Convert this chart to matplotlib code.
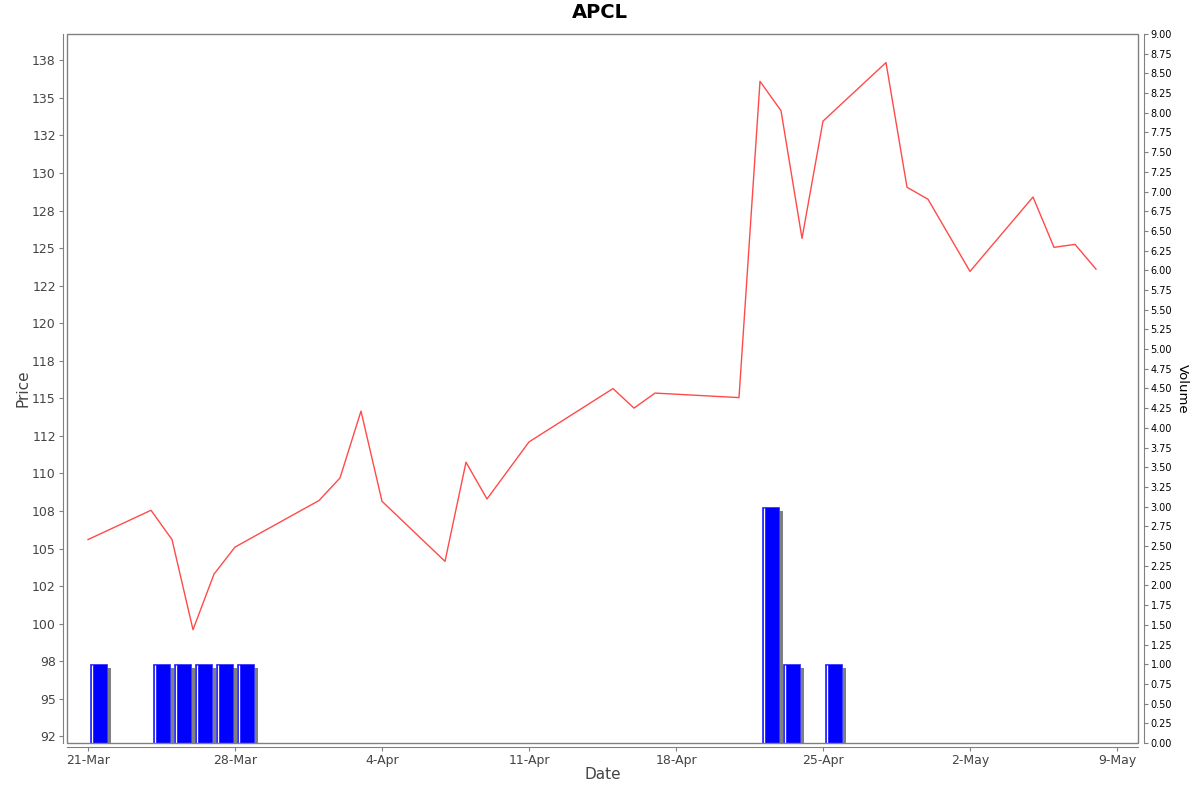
import datetime as dt
import numpy as np
import matplotlib
matplotlib.use("Agg")
from matplotlib import pyplot as plt
import matplotlib.dates as mdates
from matplotlib.ticker import FuncFormatter, MultipleLocator
from matplotlib.transforms import offset_copy

# ---- data ---------------------------------------------------------------
price_dates = ["2025-03-21", "2025-03-24", "2025-03-25", "2025-03-26", "2025-03-27",
               "2025-03-28", "2025-04-01", "2025-04-02", "2025-04-03", "2025-04-04",
               "2025-04-07", "2025-04-08", "2025-04-09", "2025-04-11", "2025-04-15",
               "2025-04-16", "2025-04-17", "2025-04-21", "2025-04-22", "2025-04-23",
               "2025-04-24", "2025-04-25", "2025-04-28", "2025-04-29", "2025-04-30",
               "2025-05-02", "2025-05-05", "2025-05-06", "2025-05-07", "2025-05-08"]
prices = [105.6, 107.55, 105.6, 99.6, 103.3,
          105.1, 108.2, 109.7, 114.15, 108.15,
          104.15, 110.75, 108.3, 112.1, 115.65,
          114.35, 115.35, 115.05, 136.1, 134.15,
          125.65, 133.45, 137.35, 129.05, 128.25,
          123.45, 128.4, 125.05, 125.25, 123.6]

volume_dates = ["2025-03-21", "2025-03-24", "2025-03-25", "2025-03-26", "2025-03-27",
                "2025-03-28", "2025-04-22", "2025-04-23", "2025-04-25"]
volumes = [1, 1, 1, 1, 1, 1, 3, 1, 1]

date_ticks = ["2025-03-21", "2025-03-28", "2025-04-04", "2025-04-11",
              "2025-04-18", "2025-04-25", "2025-05-02", "2025-05-09"]

title = "APCL"
x_start, x_end = "2025-03-20", "2025-05-10"
#--------------------------------------------------------------------------

def to_num(ds):
    return mdates.date2num([dt.datetime.strptime(d, "%Y-%m-%d") for d in ds])

px = to_num(price_dates)
vx = to_num(volume_dates)

W, H, DPI = 1200, 792, 100
fig = plt.figure(figsize=(W / DPI, H / DPI), dpi=DPI)
L, R, T, B = 67, 1138, 34, 743
ax = fig.add_axes([L / W, 1 - B / H, (R - L) / W, (B - T) / H])
ax2 = ax.twinx()

frame_c = "#808080"
grey_txt = "#444444"

# frame around the plot area
ax.patch.set_edgecolor(frame_c)
ax.patch.set_linewidth(1.0)
for s in ["top", "right"]:
    ax.spines[s].set_visible(False)
for s in ["left", "bottom"]:
    ax.spines[s].set_position(("outward", 3))
    ax.spines[s].set_color(frame_c)
for s in ["top", "left", "bottom"]:
    ax2.spines[s].set_visible(False)
ax2.spines["right"].set_position(("outward", 4))
ax2.spines["right"].set_color(frame_c)

# volume bars (with shadow)
bar_l = vx + 0.1
bar_w = 0.8
shadow_tr = offset_copy(ax2.transData, fig=fig, x=4, y=-4, units="dots")
ax2.bar(bar_l, volumes, width=bar_w, align="edge", color="#808080",
        transform=shadow_tr, zorder=1, clip_on=True)
ax2.bar(bar_l, volumes, width=bar_w, align="edge", color="#0000ff",
        edgecolor="#3a3aff", linewidth=0.6, zorder=2)
hl_tr = offset_copy(ax2.transData, fig=fig, x=1.6, y=0, units="dots")
ax2.vlines(bar_l, 0, np.array(volumes) - 0.012, colors="white", linewidth=1.0,
           transform=hl_tr, zorder=3)

# price line
ax.plot(px, prices, color="#ff4a4a", linewidth=1.0, zorder=4)
ax.set_zorder(ax2.get_zorder() + 1)
ax.patch.set_visible(True)
ax.patch.set_facecolor("none")

# axes ranges
ax.set_xlim(to_num([x_start])[0], to_num([x_end])[0])
ax.set_ylim(92.06, 139.25)
ax2.set_ylim(0, 9)

# ticks
ax.set_xticks(to_num(date_ticks))
ax.xaxis.set_major_formatter(FuncFormatter(
    lambda v, p: f"{mdates.num2date(v).day}-{mdates.num2date(v):%b}"))
ax.yaxis.set_major_locator(MultipleLocator(2.5))
ax.yaxis.set_major_formatter(FuncFormatter(lambda v, p: f"{round(v)}"))
ax2.yaxis.set_major_locator(MultipleLocator(0.25))
ax2.yaxis.set_major_formatter(FuncFormatter(lambda v, p: f"{v:.2f}"))

ax.tick_params(axis="both", length=3, width=0.8, color=frame_c,
               labelcolor=grey_txt, labelsize=9, pad=2)
ax2.tick_params(axis="y", length=3, width=0.8, color=frame_c,
                labelcolor="black", labelsize=7, pad=2)

# labels
ax.set_xlabel("Date", fontsize=11, color=grey_txt, labelpad=0)
ax.set_ylabel("Price", fontsize=11, color=grey_txt, labelpad=1)
ax2.set_ylabel("Volume", fontsize=9.5, color="black", rotation=-90, labelpad=12)
fig.text(0.5, 1 - 13 / H, title, ha="center", va="center",
         fontsize=14, fontweight="bold")

fig.savefig("out.png", dpi=DPI)
